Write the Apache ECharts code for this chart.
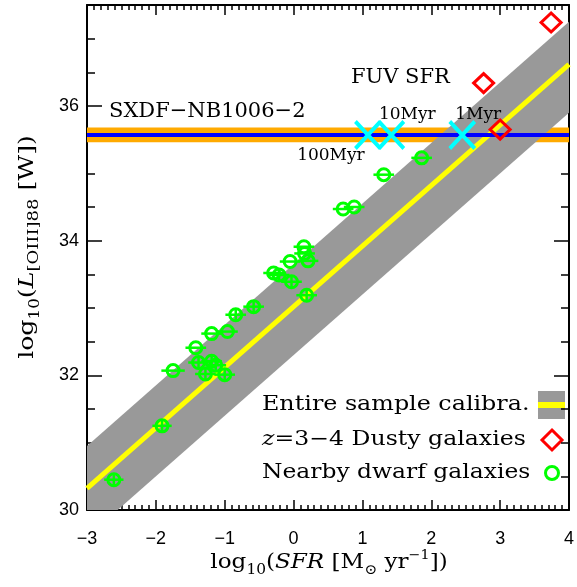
<!DOCTYPE html>
<html>
<head>
<meta charset="utf-8">
<script src="https://cdn.jsdelivr.net/npm/echarts@6/dist/echarts.min.js"></script>
<style>
  html, body { margin: 0; padding: 0; background: #fff; }
  #chart { width: 577px; height: 587px; }
</style>
</head>
<body>
<div id="chart"></div>
<script>
// calibration fit (yellow) and its scatter band (gray)
const fitX = [-3, 4];
const fitY = [30.32, 36.62];
const bandUpper = [30.95, 37.25];
const bandLower = [29.60, 35.90];

// SXDF-NB1006-2 measurement
const sxdfL = 35.57;
const sxdfErr = 0.11;

// FUV SFR for different ages
const fuvSFR = [1.08, 1.42, 2.45];
const fuvAge = ['100Myr', '10Myr', '1Myr'];

// z=3-4 dusty galaxies
const dustySFR = [3.74, 2.76, 3.00];
const dustyL = [37.24, 36.34, 35.65];

// nearby dwarf galaxies: SFR, L, xerr, yerr
const dwarfSFR = [-2.61, -1.91, -1.75, -1.42, -1.38, -1.28, -1.19, -1.13, -1.00, -1.19, -0.96, -0.84, -0.58,
                  -0.29, -0.21, -0.03, -0.05, 0.15, 0.16, 0.21, 0.19, 0.72, 0.88, 1.31, 1.86];
const dwarfL = [30.45, 31.25, 32.07, 32.41, 32.19, 32.02, 32.21, 32.15, 32.01, 32.62, 32.65, 32.90, 33.02,
                33.52, 33.49, 33.39, 33.69, 33.91, 33.81, 33.70, 33.19, 34.47, 34.50, 34.98, 35.23];
const dwarfXerr = [0.14, 0.14, 0.17, 0.15, 0.15, 0.15, 0.15, 0.15, 0.15, 0.15, 0.15, 0.15, 0.15,
                   0.15, 0.15, 0.15, 0.15, 0.15, 0.15, 0.15, 0.15, 0.15, 0.15, 0.15, 0.15];
const dwarfYerr = [0.08, 0.08, 0, 0, 0.08, 0.08, 0.08, 0.08, 0.08, 0, 0, 0.08, 0.08,
                   0, 0.08, 0.08, 0, 0, 0, 0, 0.08, 0, 0, 0, 0];

const serif = 'DejaVu Serif';
const sans = 'Liberation Sans';

function minus(v) {
  return String(v).replace('-', '\u2212');
}

function xAxisBase(pos, labels) {
  return {
    type: 'value', position: pos, min: -3, max: 4, interval: 1,
    axisLine: { show: true, onZero: false, lineStyle: { color: '#000', width: 2 } },
    axisTick: { show: true, inside: true, length: 10, lineStyle: { color: '#000', width: 1.5 } },
    minorTick: { show: true, splitNumber: 10, length: 5, lineStyle: { color: '#000', width: 1.5 } },
    splitLine: { show: false },
    axisLabel: labels ? { show: true, margin: 20, fontFamily: sans, fontSize: 18, color: '#000', formatter: minus } : { show: false }
  };
}

function yAxisBase(pos, step, len, labels, line) {
  return {
    type: 'value', position: pos, min: 30, max: 37.5, interval: step,
    axisLine: { show: line, onZero: false, lineStyle: { color: '#000', width: 2 } },
    axisTick: { show: true, inside: true, length: len, lineStyle: { color: '#000', width: 1.5 } },
    splitLine: { show: false },
    axisLabel: labels ? {
      show: true, margin: 8, fontFamily: sans, fontSize: 18, color: '#000',
      formatter: v => (v % 2 === 0 ? String(v) : '')
    } : { show: false }
  };
}

// rich styles for the axis titles
const titleRich = {
  n: { fontFamily: serif, fontSize: 21, fill: '#000', lineHeight: 28, verticalAlign: 'middle' },
  i: { fontFamily: serif, fontStyle: 'italic', fontSize: 21, fill: '#000', lineHeight: 28, verticalAlign: 'middle' },
  s: { fontFamily: serif, fontSize: 14, fill: '#000', lineHeight: 28, verticalAlign: 'bottom' },
  b: { fontFamily: serif, fontSize: 15, fill: '#000', lineHeight: 28, verticalAlign: 'bottom' },
  p: { fontFamily: serif, fontSize: 13, fill: '#000', lineHeight: 28, verticalAlign: 'top' }
};

const chart = echarts.init(document.getElementById('chart'));

chart.setOption({
  animation: false,
  backgroundColor: '#fff',
  grid: { left: 87, top: 5, width: 485, height: 505 },
  xAxis: [xAxisBase('bottom', true), xAxisBase('top', false)],
  yAxis: [
    yAxisBase('left', 0.5, 8, true, true),
    yAxisBase('left', 2, 15, false, false),
    yAxisBase('right', 0.5, 8, false, true),
    yAxisBase('right', 2, 15, false, false)
  ],
  series: [
    {
      name: 'band', type: 'custom', clip: true, silent: true, z: 1,
      data: [[0]],
      renderItem: function(params, api) {
        const pts = [
          api.coord([fitX[0], bandLower[0]]),
          api.coord([fitX[1], bandLower[1]]),
          api.coord([fitX[1], bandUpper[1]]),
          api.coord([fitX[0], bandUpper[0]])
        ];
        return { type: 'polygon', shape: { points: pts }, style: { fill: '#999999' } };
      }
    },
    {
      name: 'fit', type: 'line', symbol: 'none', z: 2, silent: true,
      data: fitX.map((x, i) => [x, fitY[i]]),
      lineStyle: { color: '#ffff00', width: 5 }
    },
    {
      name: 'sxdf', type: 'line', symbol: 'none', z: 3, silent: true,
      data: [[-3, sxdfL], [4, sxdfL]],
      lineStyle: { color: '#0000ff', width: 4 },
      markArea: {
        silent: true,
        itemStyle: { color: '#ffaa00' },
        data: [[{ yAxis: sxdfL - sxdfErr }, { yAxis: sxdfL + sxdfErr }]]
      }
    },
    {
      name: 'errbars', type: 'custom', z: 4, silent: true,
      data: dwarfSFR.map((x, i) => [x, dwarfL[i], dwarfXerr[i], dwarfYerr[i]]),
      renderItem: function(params, api) {
        const x = api.value(0), y = api.value(1), ex = api.value(2), ey = api.value(3);
        const a = api.coord([x - ex, y]), b = api.coord([x + ex, y]);
        const kids = [{ type: 'line', shape: { x1: a[0], y1: a[1], x2: b[0], y2: b[1] },
                        style: { stroke: '#00ff00', lineWidth: 2.5 } }];
        if (ey > 0) {
          const c = api.coord([x, y - ey]), d = api.coord([x, y + ey]);
          kids.push({ type: 'line', shape: { x1: c[0], y1: c[1], x2: d[0], y2: d[1] },
                      style: { stroke: '#00ff00', lineWidth: 2.5 } });
        }
        return { type: 'group', children: kids };
      }
    },
    {
      name: 'dwarf', type: 'scatter', z: 5, symbol: 'circle', symbolSize: 12,
      data: dwarfSFR.map((x, i) => [x, dwarfL[i]]),
      itemStyle: { color: 'rgba(0,0,0,0)', borderColor: '#00ff00', borderWidth: 3, opacity: 1 }
    },
    {
      name: 'dusty', type: 'scatter', z: 6, symbol: 'diamond', symbolSize: [20, 19],
      data: dustySFR.map((x, i) => [x, dustyL[i]]),
      itemStyle: { color: 'rgba(0,0,0,0)', borderColor: '#ff0000', borderWidth: 3, opacity: 1 }
    },
    {
      name: 'fuv', type: 'scatter', z: 7,
      symbol: 'path://M0,0L10,10M10,0L0,10', symbolSize: [25, 27],
      itemStyle: { color: 'none', borderColor: '#00ffff', borderWidth: 4, opacity: 1 },
      label: { show: true, position: 'inside', fontFamily: serif, fontSize: 17, color: '#000', formatter: p => fuvAge[p.dataIndex] },
      data: fuvSFR.map((x, i) => ({
        value: [x, sxdfL],
        label: { offset: i === 0 ? [-37, 21] : [16, -20] }
      }))
    }
  ],
  graphic: [
    // axis titles
    { type: 'text', x: 329, y: 563, scaleX: 1.1, style: {
        text: '{n|log}{s|10}{n|(}{i|SFR}{n| [M}{s|\u2299}{n| yr}{p|\u22121}{n|])}',
        rich: titleRich, align: 'center', verticalAlign: 'middle' } },
    { type: 'text', x: 28, y: 247, rotation: Math.PI / 2, scaleX: 1.2, style: {
        text: '{n|log}{s|10}{n|(}{i|L}{b|[OIII]88}{n| [W])}',
        rich: titleRich, align: 'center', verticalAlign: 'middle' } },
    // annotations
    { type: 'text', left: 109, top: 101, style: { text: 'SXDF\u2212NB1006\u22122', font: '21px "DejaVu Serif"', fill: '#000' } },
    { type: 'text', left: 351, top: 67, style: { text: 'FUV SFR', font: '21px "DejaVu Serif"', fill: '#000' } },
    // legend
    { type: 'text', x: 262, y: 405, scaleX: 1.19, style: { text: 'Entire sample calibra.', font: '20px "DejaVu Serif"', fill: '#000', verticalAlign: 'middle' } },
    { type: 'text', x: 262, y: 440, scaleX: 1.18, style: {
        text: '{i|z}{n|=3\u22124 Dusty galaxies}', verticalAlign: 'middle',
        rich: { i: { font: 'italic 20px "DejaVu Serif"', fill: '#000' }, n: { font: '20px "DejaVu Serif"', fill: '#000' } } } },
    { type: 'text', x: 262, y: 473, scaleX: 1.17, style: { text: 'Nearby dwarf galaxies', font: '20px "DejaVu Serif"', fill: '#000', verticalAlign: 'middle' } },
    { type: 'rect', shape: { x: 538, y: 391, width: 27, height: 28 }, style: { fill: '#999999' } },
    { type: 'rect', shape: { x: 538, y: 402, width: 27, height: 6 }, style: { fill: '#ffff00' } },
    { type: 'polygon', shape: { points: [[552, 430], [562, 440], [552, 450], [542, 440]] },
      style: { fill: 'none', stroke: '#ff0000', lineWidth: 3 } },
    { type: 'circle', shape: { cx: 552, cy: 473, r: 6.5 }, style: { fill: 'none', stroke: '#00ff00', lineWidth: 3 } }
  ]
});
</script>
</body>
</html>
